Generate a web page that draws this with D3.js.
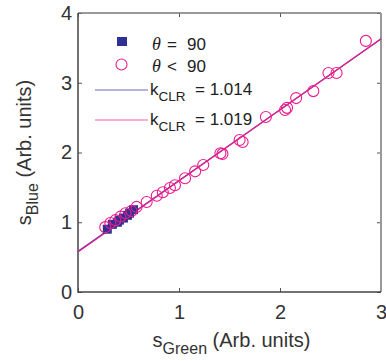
<!DOCTYPE html>
<html>
<head>
<meta charset="utf-8">
<script src="https://cdn.jsdelivr.net/npm/d3@7"></script>
<style>
body { margin: 0; background: #fff; }
text { font-family: "Liberation Sans", Arial, sans-serif; }
</style>
</head>
<body>
<svg id="chart"></svg>
<script>
// Data
const square_x = [0.29, 0.34, 0.39, 0.41, 0.45, 0.49, 0.51, 0.55];
const square_y = [0.90, 0.97, 1.00, 1.03, 1.06, 1.10, 1.13, 1.18];
const circle_x = [0.27, 0.32, 0.37, 0.42, 0.47, 0.53, 0.58, 0.68, 0.78, 0.84, 0.91, 0.96, 1.06,
    1.16, 1.24, 1.41, 1.43, 1.60, 1.63, 1.86, 2.05, 2.07, 2.16, 2.33, 2.48, 2.56, 2.85];
const circle_y = [0.93, 0.99, 1.03, 1.08, 1.13, 1.16, 1.22, 1.29, 1.38, 1.43, 1.49, 1.53, 1.63,
    1.73, 1.82, 1.99, 1.98, 2.18, 2.15, 2.51, 2.61, 2.64, 2.78, 2.88, 3.14, 3.14, 3.60];
const fit_slopes = [1.014, 1.019];
const fit_intercepts = [0.585, 0.575];
const x_ticks = [0, 1, 2, 3];
const y_ticks = [0, 1, 2, 3, 4];

const blue = "#2e3192", pink = "#ec1c8c";

// Chart dimensions
const width = 386, height = 361;
const margins = { top: 13, right: 5, bottom: 69, left: 78 };
const chart_width = width - margins.left - margins.right;
const chart_height = height - margins.top - margins.bottom;

const x_scale = d3.scaleLinear().domain([0, 3]).range([0, chart_width]);
const y_scale = d3.scaleLinear().domain([0, 4]).range([chart_height, 0]);

const svg = d3.select("#chart")
    .attr("width", width)
    .attr("height", height)
    .append("g")
    .attr("transform", `translate(${margins.left},${margins.top})`);

// Axes with inward ticks on all four sides
function style_axis(g, show_labels) {
    g.select(".domain").remove();
    g.selectAll(".tick line").attr("stroke", "#555");
    g.selectAll(".tick text")
        .attr("fill", "#333")
        .style("font-size", "20px")
        .style("display", show_labels ? null : "none");
}
svg.append("g")
    .attr("transform", `translate(0,${chart_height})`)
    .call(d3.axisBottom(x_scale).tickValues(x_ticks).tickSize(-4).tickPadding(13).tickFormat(d3.format("d")))
    .call(g => style_axis(g, true));
svg.append("g")
    .call(d3.axisTop(x_scale).tickValues(x_ticks).tickSize(-4))
    .call(g => style_axis(g, false));
svg.append("g")
    .call(d3.axisLeft(y_scale).tickValues(y_ticks).tickSize(-4).tickPadding(6).tickFormat(d3.format("d")))
    .call(g => style_axis(g, true));
svg.append("g")
    .attr("transform", `translate(${chart_width},0)`)
    .call(d3.axisRight(y_scale).tickValues(y_ticks).tickSize(-4))
    .call(g => style_axis(g, false));

// Frame
svg.append("path")
    .attr("d", `M0,0H${chart_width}`)
    .attr("stroke", "#777").attr("stroke-width", 1.5);
svg.append("path")
    .attr("d", `M${chart_width},0V${chart_height}`)
    .attr("stroke", "#999").attr("stroke-width", 2);
svg.append("path")
    .attr("d", `M0,0V${chart_height}H${chart_width}`)
    .attr("fill", "none").attr("stroke", "#444").attr("stroke-width", 1.5);

// Fit lines
const fit_colors = ["#4848a8", pink];
fit_slopes.forEach((k, i) => {
    svg.append("line")
        .attr("x1", x_scale(0))
        .attr("y1", y_scale(fit_intercepts[i]))
        .attr("x2", x_scale(3))
        .attr("y2", y_scale(fit_intercepts[i] + 3 * k))
        .attr("stroke", fit_colors[i])
        .attr("stroke-width", 1.2);
});

// Squares (theta = 90)
svg.selectAll("rect.pt")
    .data(square_x.map((x, i) => ({ x: x, y: square_y[i] })))
    .enter()
    .append("rect")
    .attr("class", "pt")
    .attr("x", d => x_scale(d.x) - 4.5)
    .attr("y", d => y_scale(d.y) - 4.5)
    .attr("width", 9)
    .attr("height", 9)
    .attr("fill", blue);

// Circles (theta < 90), drawn over the squares
svg.selectAll("circle.pt")
    .data(circle_x.map((x, i) => ({ x: x, y: circle_y[i] })))
    .enter()
    .append("circle")
    .attr("class", "pt")
    .attr("cx", d => x_scale(d.x))
    .attr("cy", d => y_scale(d.y))
    .attr("r", 5.5)
    .attr("fill", "none")
    .attr("stroke", pink)
    .attr("stroke-width", 1.1);

// Legend
const legend = svg.append("g");
legend.append("rect")
    .attr("x", 39).attr("y", 24).attr("width", 10).attr("height", 9).attr("fill", blue);
legend.append("circle")
    .attr("cx", 43.5).attr("cy", 51.5).attr("r", 5.5)
    .attr("fill", "none").attr("stroke", pink).attr("stroke-width", 1.1);

const theta_ops = ["=", "<"];
const theta_vals = ["90", "90"];
theta_ops.forEach((op, i) => {
    const yy = 37 + i * 22;
    legend.append("text").attr("x", 74).attr("y", yy).text("θ")
        .style("font-size", "18px").attr("fill", "#222")
        .style("font-family", "'Liberation Serif', serif").style("font-style", "italic");
    legend.append("text").attr("x", 89).attr("y", yy).text(op)
        .style("font-size", "17px").attr("fill", "#222");
    legend.append("text").attr("x", 109).attr("y", yy).text(theta_vals[i])
        .style("font-size", "17px").attr("fill", "#222");
});

const legend_line_colors = ["#6a6ac0", "#f060a8"];
fit_slopes.forEach((k, i) => {
    const yy = 77 + i * 30;
    legend.append("line")
        .attr("x1", 17).attr("x2", 70).attr("y1", yy).attr("y2", yy)
        .attr("stroke", legend_line_colors[i]).attr("stroke-width", 1.2);
    const t = legend.append("text")
        .attr("x", 72).attr("y", yy + 5)
        .style("font-size", "17px").attr("fill", "#222");
    t.append("tspan").text("k");
    t.append("tspan").text("CLR").attr("dy", 6).style("font-size", "13.5px");
    legend.append("text")
        .attr("x", 117).attr("y", yy + 5)
        .style("font-size", "17px").attr("fill", "#222")
        .text(`= ${d3.format(".3f")(k)}`);
});

// Axis labels
const x_label = svg.append("text")
    .attr("x", chart_width / 2 + 2)
    .attr("y", chart_height + 55)
    .attr("text-anchor", "middle")
    .style("font-size", "20px").attr("fill", "#333");
x_label.append("tspan").text("s");
x_label.append("tspan").text("Green").attr("dy", 7).style("font-size", "16px");
x_label.append("tspan").text(" (Arb. units)").attr("dy", -7);

const y_label = svg.append("text")
    .attr("transform", `translate(-47,${chart_height / 2}) rotate(-90)`)
    .attr("text-anchor", "middle")
    .style("font-size", "20px").attr("fill", "#333");
y_label.append("tspan").text("s");
y_label.append("tspan").text("Blue").attr("dy", 7).style("font-size", "16px");
y_label.append("tspan").text(" (Arb. units)").attr("dy", -7);
</script>
</body>
</html>
